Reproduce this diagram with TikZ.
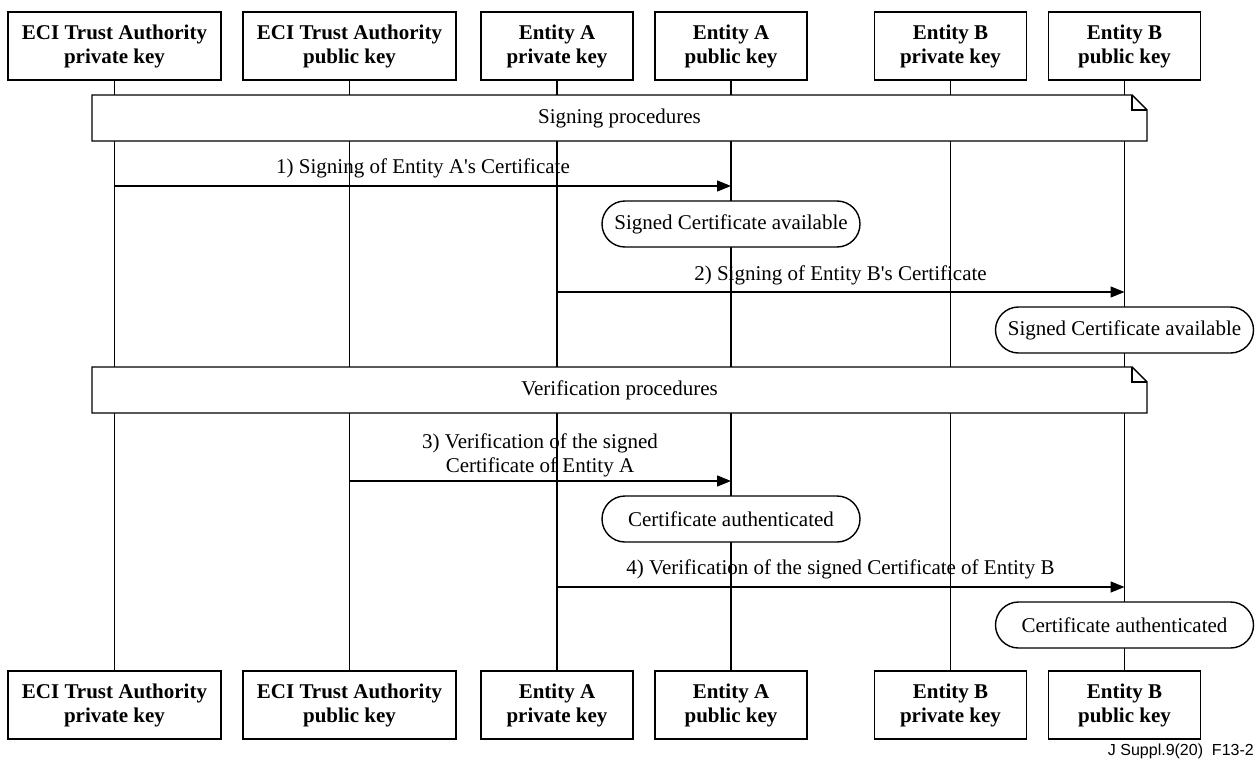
\documentclass[tikz,border=0pt]{standalone}
\usepackage{fontspec}
\setmainfont{Liberation Serif}
\newfontfamily\footfont{Liberation Sans}
\usetikzlibrary{arrows.meta}
\tikzset{
  lbox/.style={draw, line width=1.4pt, fill=white, align=center, inner sep=0pt,
    minimum height=68pt, font=\fontsize{21}{24}\selectfont\bfseries},
  lifeline/.style={line width=1.4pt},
  msg/.style={line width=1.4pt, -{Triangle[length=14pt,width=11pt]}},
  msglabel/.style={align=center, inner sep=0pt, font=\fontsize{21}{24}\selectfont},
  statebox/.style={draw, line width=1.4pt, fill=white, rounded corners=23pt,
    minimum width=258pt, minimum height=46pt, inner sep=0pt, font=\fontsize{21}{24}\selectfont},
  notebox/.style={draw, line width=1.4pt, fill=white, line join=miter},
  notetext/.style={inner sep=0pt, font=\fontsize{21}{24}\selectfont},
}
\begin{document}
\begin{tikzpicture}[x=1pt,y=-1pt]
\useasboundingbox (0,0) rectangle (1258,760);
% header boxes
\node[lbox, minimum width=213pt] (h1) at (114.5,46) {ECI Trust Authority\\private key};
\node[lbox, minimum width=213pt] (h2) at (349.5,46) {ECI Trust Authority\\public key};
\node[lbox, minimum width=152pt] (h3) at (557,46) {Entity A\\private key};
\node[lbox, minimum width=152pt] (h4) at (731,46) {Entity A\\public key};
\node[lbox, minimum width=152pt] (h5) at (950.5,46) {Entity B\\private key};
\node[lbox, minimum width=152pt] (h6) at (1124.5,46) {Entity B\\public key};
% footer boxes
\node[lbox, minimum width=213pt] (f1) at (114.5,705) {ECI Trust Authority\\private key};
\node[lbox, minimum width=213pt] (f2) at (349.5,705) {ECI Trust Authority\\public key};
\node[lbox, minimum width=152pt] (f3) at (557,705) {Entity A\\private key};
\node[lbox, minimum width=152pt] (f4) at (731,705) {Entity A\\public key};
\node[lbox, minimum width=152pt] (f5) at (950.5,705) {Entity B\\private key};
\node[lbox, minimum width=152pt] (f6) at (1124.5,705) {Entity B\\public key};
% lifelines
\foreach \i in {1,...,6}{\draw[lifeline] (h\i.south) -- (f\i.north);}
% signing note
\draw[notebox] (92,95) -- (1132,95) -- (1147,110) -- (1147,141) -- (92,141) -- cycle;
\draw[line width=1.4pt] (1132,95) -- (1132,110) -- (1147,110);
\node[notetext] (n1) at (619.5,118) {Signing procedures};
% message 1
\coordinate (m1s) at (h1.south |- 0,186);
\coordinate (m1e) at (h4.south |- 0,186);
\draw[msg] (m1s) -- (m1e);
\node[msglabel] (l1) at (423,168) {1) Signing of Entity A\textquotesingle s Certificate};
\node[statebox] (s1) at (731,224) {Signed Certificate available};
% message 2
\coordinate (m2s) at (h3.south |- 0,292);
\coordinate (m2e) at (h6.south |- 0,292);
\draw[msg] (m2s) -- (m2e);
\node[msglabel] (l2) at (840.5,275) {2) Signing of Entity B\textquotesingle s Certificate};
\node[statebox] (s2) at (1124.5,330) {Signed Certificate available};
% verification note
\draw[notebox] (92,367) -- (1132,367) -- (1147,382) -- (1147,413) -- (92,413) -- cycle;
\draw[line width=1.4pt] (1132,367) -- (1132,382) -- (1147,382);
\node[notetext] (n2) at (619.5,390) {Verification procedures};
% message 3
\coordinate (m3s) at (h2.south |- 0,481);
\coordinate (m3e) at (h4.south |- 0,481);
\draw[msg] (m3s) -- (m3e);
\node[msglabel] (l3) at (540,455) {3) Verification of the signed\\Certificate of Entity A};
\node[statebox] (s3) at (731,519) {Certificate authenticated};
% message 4
\coordinate (m4s) at (h3.south |- 0,587);
\coordinate (m4e) at (h6.south |- 0,587);
\draw[msg] (m4s) -- (m4e);
\node[msglabel] (l4) at (840.5,569) {4) Verification of the signed Certificate of Entity B};
\node[statebox] (s4) at (1124.5,625) {Certificate authenticated};
% figure id
\node[anchor=east, inner sep=0pt, font=\footfont\fontsize{16}{18}\selectfont] (fid) at (1254,751) {J Suppl.9(20)\ \ F13-2};
\end{tikzpicture}
\end{document}
